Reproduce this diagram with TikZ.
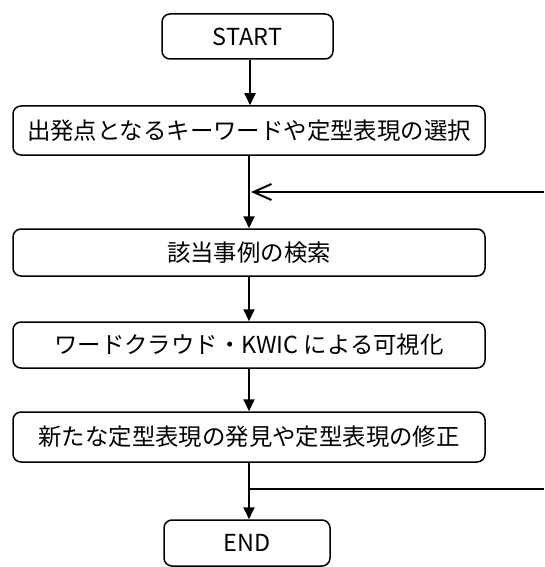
\documentclass[tikz,border=0pt]{standalone}
\usepackage{fontspec}
\setmainfont{Noto Sans CJK JP}
\usetikzlibrary{arrows.meta}
\tikzset{
  box/.style={draw, line width=1.5pt, rounded corners=8pt, inner sep=0pt, align=center,
    font=\fontsize{23.4pt}{26pt}\selectfont},
  conn/.style={line width=1.8pt},
  arr/.style={conn, -{Triangle[length=12pt,width=11pt]}},
  fb/.style={conn, -{Straight Barb[length=18pt,width=16pt,line width=2pt]}}
}
\begin{document}
\begin{tikzpicture}[x=1pt,y=-1pt]
\useasboundingbox (0,0) rectangle (544,567);
\node[box, minimum width=171pt, minimum height=45pt] (start) at (247.5,36.5) {START};
\node[box, minimum width=472pt, minimum height=49pt] (b2) at (249,130.5) {出発点となるキーワードや定型表現の選択};
\node[box, minimum width=472pt, minimum height=47pt] (b3) at (249,252.5) {該当事例の検索};
\node[box, minimum width=472pt, minimum height=46pt] (b4) at (249,345) {ワードクラウド・KWIC による可視化};
\node[box, minimum width=472pt, minimum height=50pt] (b5) at (249,437) {新たな定型表現の発見や定型表現の修正};
\node[box, minimum width=166pt, minimum height=46pt] (end) at (247,543) {END};
\coordinate (fbin) at (544,192);
\coordinate (fbhit) at (249,192);
\coordinate (brk) at (249,489);
\coordinate (brout) at (544,489);
\draw[arr] (start.south -| 250,0) -- (b2.north -| 250,0);
\draw[arr] (b2.south -| fbhit) -- (b3.north -| fbhit);
\draw[fb] (fbin) -- ([xshift=2pt]fbhit);
\draw[arr] (b3.south -| fbhit) -- (b4.north -| fbhit);
\draw[arr] (b4.south -| fbhit) -- (b5.north -| fbhit);
\draw[arr] (b5.south -| fbhit) -- (end.north -| fbhit);
\draw[conn] (brk) -- (brout);
\end{tikzpicture}
\end{document}
